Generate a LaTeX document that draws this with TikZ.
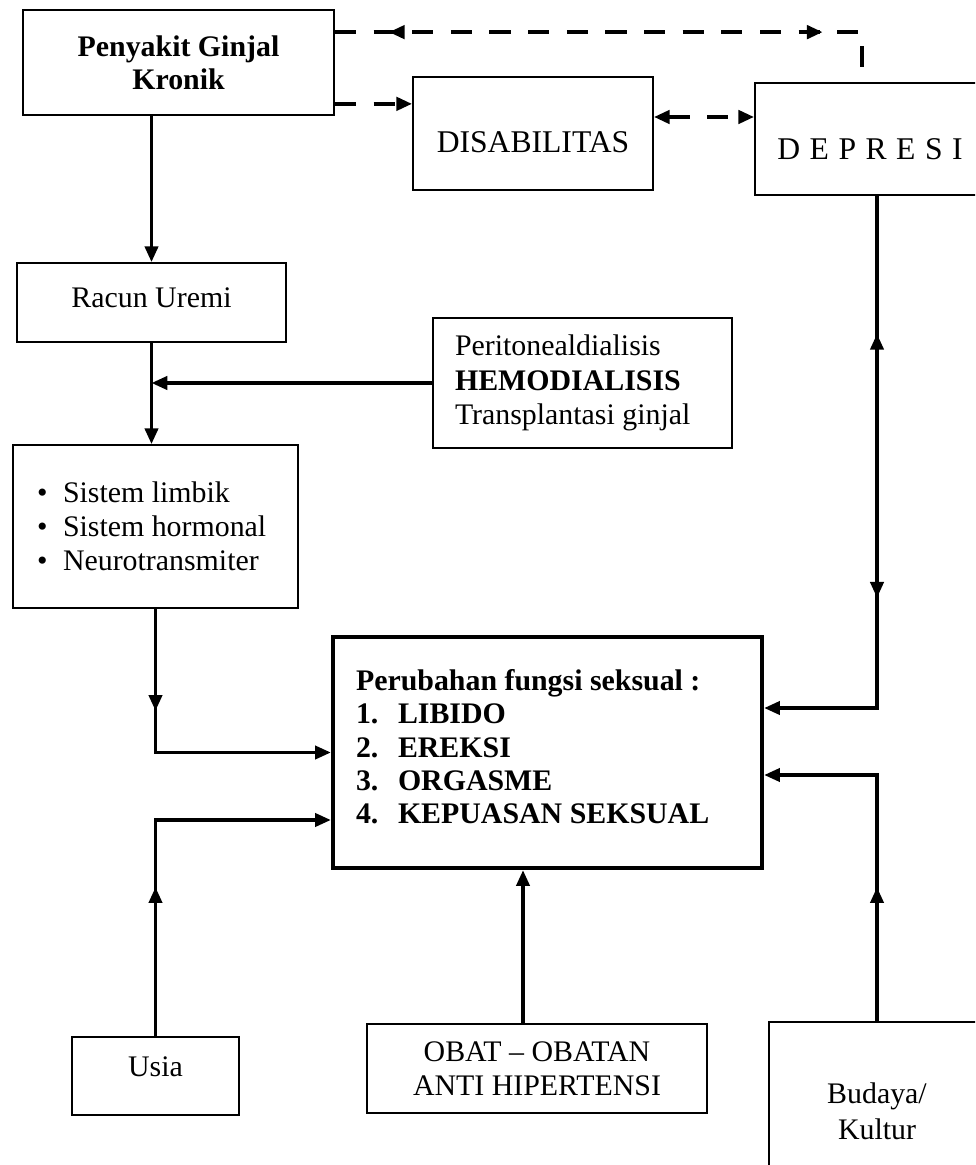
\documentclass[tikz,border=0pt]{standalone}
\usepackage{fontspec}
\setmainfont{Liberation Serif}
\usetikzlibrary{arrows.meta,decorations.markings}

\begin{document}
\begin{tikzpicture}[x=0.02cm,y=-0.02cm,>={Triangle[length=9pt,width=7.5pt]},
  every node/.style={draw,line width=1pt,inner sep=0pt,align=center,font=\fontsize{17}{19.5}\selectfont},
  sol/.style={line width=2pt},
  dsh/.style={line width=2.3pt,dash pattern=on 12pt off 10pt},
  fwd/.style={postaction={decorate,decoration={markings,mark=at position #1 with {\arrow{>}}}}},
  bwd/.style={postaction={decorate,decoration={markings,mark=at position #1 with {\arrowreversed{>}}}}}]
\useasboundingbox (0,0) rectangle (975,1165);
\clip (0,0) rectangle (975,1165);

\node (pgk) at (178.5,62.5) [minimum width=6.22cm,minimum height=2.1cm,font=\fontsize{17}{19}\selectfont\bfseries] {Penyakit Ginjal\\Kronik};
\node (dis) at (533,133.5) [minimum width=4.8cm,minimum height=2.26cm,font=\fontsize{18}{20}\selectfont]
  {\raisebox{-0.17cm}[\height][\depth]{DISABILITAS}};
\node (dep) at (870,139) [minimum width=4.6cm,minimum height=2.24cm,font=\fontsize{18}{20}\selectfont]
  {\raisebox{-0.2cm}[\height][\depth]{D\hspace{0.3em}E\hspace{0.3em}P\hspace{0.3em}R\hspace{0.3em}E\hspace{0.3em}S\hspace{0.3em}I}};
\node (racun) at (151.5,302.5) [minimum width=5.38cm,minimum height=1.58cm] {\raisebox{0.1cm}[\height][\depth]{Racun Uremi}};
\node (terapi) at (582.5,383) [minimum width=5.98cm,minimum height=2.6cm,inner xsep=0.44cm,text width=5.1cm,align=flush left]
  {Peritonealdialisis\\\textbf{HEMODIALISIS}\\Transplantasi ginjal};
\node (saraf) at (155.5,526.5) [minimum width=5.7cm,minimum height=3.26cm,inner xsep=0.48cm,text width=4.74cm,align=flush left]
  {\makebox[0.52cm][l]{\textbullet}Sistem limbik\\\makebox[0.52cm][l]{\textbullet}Sistem hormonal\\\makebox[0.52cm][l]{\textbullet}Neurotransmiter};
\node (ubah) at (547.5,752.5) [line width=2.5pt,minimum width=8.58cm,minimum height=4.62cm,text width=7.66cm,align=flush left,
  font=\fontsize{17}{19}\selectfont\bfseries]
  {Perubahan fungsi seksual :\\\makebox[0.84cm][l]{1.}LIBIDO\\\makebox[0.84cm][l]{2.}EREKSI\\\makebox[0.84cm][l]{3.}ORGASME\\\makebox[0.84cm][l]{4.}KEPUASAN SEKSUAL\\[-0.43cm]\mbox{}};
\node (usia) at (155.5,1076) [minimum width=3.34cm,minimum height=1.56cm] {\raisebox{0.18cm}[\height][\depth]{Usia}};
\node (obat) at (537,1068.5) [minimum width=6.8cm,minimum height=1.78cm] {OBAT -- OBATAN\\ANTI HIPERTENSI};
\node (budaya) at (877,1111) [minimum width=4.32cm,minimum height=3.56cm,font=\fontsize{17}{20.5}\selectfont] {Budaya/\\Kultur};

\coordinate (dtop) at (862,75);
\coordinate (d1) at ([yshift=0.24cm]pgk.south east);
\coordinate (d2) at ([yshift=0.33cm]dis.east);
\coordinate (obin) at ([xshift=-0.28cm]obat.north);

\draw[dsh,bwd=1.08cm,fwd=9.76cm] ([yshift=-0.46cm]pgk.north east) -| (dtop);
\draw[dsh,->] (d1) -- (d1 -| dis.west);
\draw[dsh,<->] (d2) -- (d2 -| dep.west);

\draw[sol,->] (racun.north |- pgk.south) -- (racun.north);
\draw[sol,->] (racun.south) -- (racun.south |- saraf.north);
\draw[sol,->] (terapi.west) -- (terapi.west -| racun.south);
\draw[sol,->,fwd=2.04cm] (saraf.south) |- (ubah.west);
\draw[sol,->,bwd=2.76cm,fwd=8.04cm] (budaya.north |- dep.south) |- ([yshift=0.89cm]ubah.east);
\draw[sol,->,fwd=2.68cm] (budaya.north) |- ([yshift=-0.45cm]ubah.east);
\draw[sol,->,fwd=2.98cm] (usia.north) |- ([yshift=-1.35cm]ubah.west);
\draw[sol,->] (obin) -- (obin |- ubah.south);
\end{tikzpicture}
\end{document}
